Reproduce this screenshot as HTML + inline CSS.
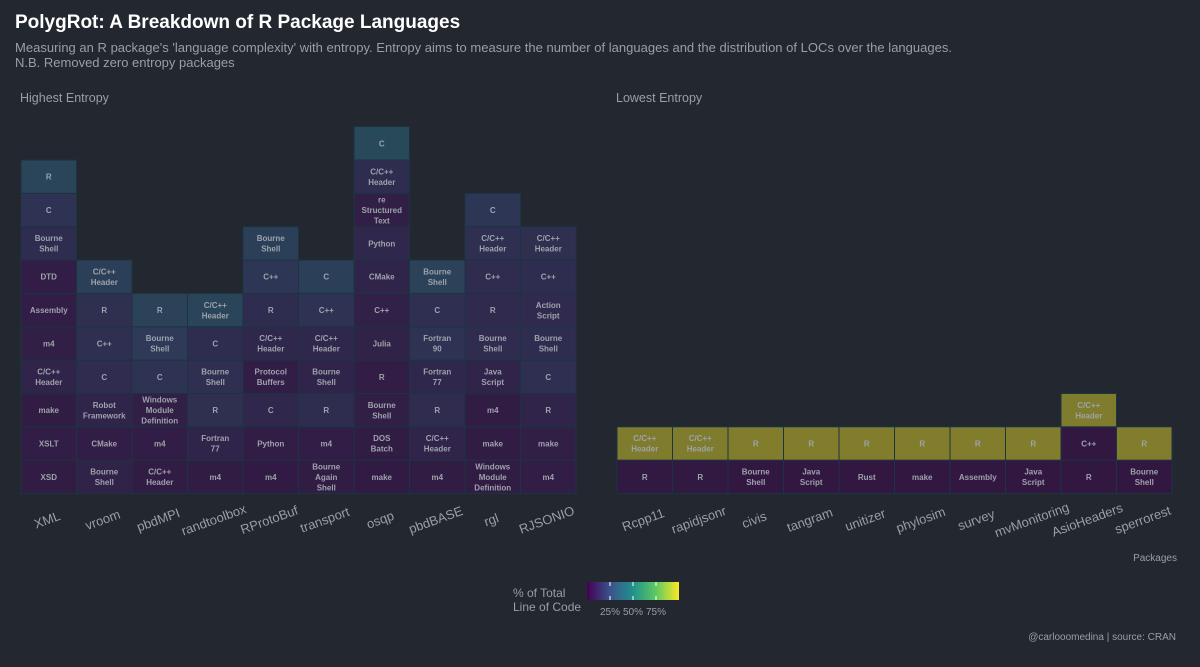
<!DOCTYPE html>
<html><head><meta charset="utf-8">
<style>
html,body{margin:0;padding:0;background:#23272f;width:1200px;height:667px;overflow:hidden;}
svg{display:block;font-family:"Liberation Sans",sans-serif;}
</style></head>
<body>
<svg id="chart" width="1200" height="667" viewBox="0 0 1200 667">
<rect width="1200" height="667" fill="#23272f"/>
<text x="15" y="28" fill="#ffffff" font-size="19" font-weight="bold">PolygRot: A Breakdown of R Package Languages</text>
<text x="15" y="52" fill="#9a9ea6" font-size="13" textLength="937">Measuring an R package's 'language complexity' with entropy. Entropy aims to measure the number of languages and the distribution of LOCs over the languages.</text>
<text x="15" y="67" fill="#9a9ea6" font-size="13">N.B. Removed zero entropy packages</text>
<text x="20" y="102" fill="#9a9ea6" font-size="12.5">Highest Entropy</text>
<text x="616" y="102" fill="#9a9ea6" font-size="12.5">Lowest Entropy</text>
<g id="tiles"></g>
<g id="xlabels"></g>
<text x="1177" y="561" fill="#9a9ea6" font-size="10" text-anchor="end">Packages</text>
<g>
<text x="513" y="597" fill="#9a9ea6" font-size="12">% of Total</text>
<text x="513" y="611" fill="#9a9ea6" font-size="12">Line of Code</text>
<defs><linearGradient id="vir" x1="0" x2="1" y1="0" y2="0">
<stop offset="0" stop-color="#440154"/><stop offset="0.25" stop-color="#3b528b"/><stop offset="0.5" stop-color="#21918c"/><stop offset="0.75" stop-color="#5ec962"/><stop offset="1" stop-color="#fde725"/></linearGradient></defs>
<rect x="587" y="582" width="92" height="18" fill="url(#vir)"/>
<g id="legticks"></g>
</g>
<text x="1176" y="640" fill="#9a9ea6" font-size="10" text-anchor="end">@carlooomedina | source: CRAN</text>
</svg>
<script>
// High entropy facet
const highPackages = ["XML","vroom","pbdMPI","randtoolbox","RProtoBuf","transport","osqp","pbdBASE","rgl","RJSONIO"];
const highLangs = [
 ["XSD","XSLT","make","C/C++ Header","m4","Assembly","DTD","Bourne Shell","C","R"],
 ["Bourne Shell","CMake","Robot Framework","C","C++","R","C/C++ Header"],
 ["C/C++ Header","m4","Windows Module Definition","C","Bourne Shell","R"],
 ["m4","Fortran 77","R","Bourne Shell","C","C/C++ Header"],
 ["m4","Python","C","Protocol Buffers","C/C++ Header","R","C++","Bourne Shell"],
 ["Bourne Again Shell","m4","R","Bourne Shell","C/C++ Header","C++","C"],
 ["make","DOS Batch","Bourne Shell","R","Julia","C++","CMake","Python","re Structured Text","C/C++ Header","C"],
 ["m4","C/C++ Header","R","Fortran 77","Fortran 90","C","Bourne Shell"],
 ["Windows Module Definition","make","m4","Java Script","Bourne Shell","R","C++","C/C++ Header","C"],
 ["m4","make","R","C","Bourne Shell","Action Script","C++","C/C++ Header"]
];
const highShares = [
 [0.04,0.05,0.04,0.1,0.06,0.05,0.05,0.16,0.2,0.34],
 [0.08,0.05,0.1,0.15,0.18,0.17,0.3],
 [0.04,0.05,0.06,0.2,0.25,0.32],
 [0.04,0.1,0.17,0.18,0.16,0.34],
 [0.03,0.05,0.12,0.05,0.12,0.16,0.22,0.3],
 [0.04,0.05,0.16,0.1,0.12,0.2,0.3],
 [0.03,0.04,0.06,0.05,0.08,0.07,0.1,0.12,0.06,0.16,0.38],
 [0.04,0.1,0.15,0.12,0.2,0.18,0.32],
 [0.04,0.04,0.04,0.1,0.15,0.14,0.15,0.18,0.22],
 [0.05,0.06,0.1,0.18,0.16,0.14,0.16,0.17]
];
// Low entropy facet
const lowPackages = ["Rcpp11","rapidjsonr","civis","tangram","unitizer","phylosim","survey","mvMonitoring","AsioHeaders","sperrorest"];
const lowLangs = [
 ["R","C/C++ Header"],["R","C/C++ Header"],["Bourne Shell","R"],["Java Script","R"],["Rust","R"],
 ["make","R"],["Assembly","R"],["Java Script","R"],["R","C++","C/C++ Header"],["Bourne Shell","R"]
];
const lowShares = [
 [0.02,0.98],[0.02,0.98],[0.01,0.99],[0.01,0.99],[0.01,0.99],
 [0.01,0.99],[0.01,0.99],[0.01,0.99],[0.01,0.01,0.98],[0.01,0.99]
];
const legendTicks = [0.25,0.5,0.75];
const legendLabels = ["25%","50%","75%"];

const NS="http://www.w3.org/2000/svg";
const bg=[35,39,47];
const vstops=[[68,1,84],[59,82,139],[33,145,140],[94,201,98],[253,231,37]];
function viridis(v){v=Math.max(0,Math.min(1,v));const p=v*4,i=Math.min(3,Math.floor(p)),f=p-i;
 return vstops[i].map((c,k)=>c+(vstops[i+1][k]-c)*f);}
function fillFor(v){const c=viridis(v),a=0.45;
 return "rgb("+c.map((x,k)=>Math.round(x*a+bg[k]*(1-a))).join(",")+")";}
const baseY=493.5, rowH=33.35, colW=55.5;
function xPos(panelX,i){return panelX+i*colW;}
function yPos(row){return baseY-(row+1)*rowH;}
const tg=document.getElementById("tiles"), xl=document.getElementById("xlabels");
function drawPanel(pkgs,langs,shares,panelX){
 pkgs.forEach((p,i)=>{
  const x=xPos(panelX,i);
  langs[i].forEach((lang,r)=>{
   const y=yPos(r);
   const rect=document.createElementNS(NS,"rect");
   rect.setAttribute("x",x);rect.setAttribute("y",y);
   rect.setAttribute("width",colW);rect.setAttribute("height",rowH);
   rect.setAttribute("fill",fillFor(shares[i][r]));
   rect.setAttribute("stroke","#1b3442");rect.setAttribute("stroke-width","1");
   
   
   tg.appendChild(rect);
   const words=lang.split(" ");
   const t=document.createElementNS(NS,"text");
   t.setAttribute("x",x+colW/2);t.setAttribute("text-anchor","middle");
   t.setAttribute("fill","#9ea2ac");t.setAttribute("font-size","8");t.setAttribute("font-weight","bold");
   
   
   const lh=10.5, y0=y+rowH/2-(words.length-1)*lh/2+3;
   words.forEach((w,k)=>{const ts=document.createElementNS(NS,"tspan");
    ts.setAttribute("x",x+colW/2);ts.setAttribute("y",y0+k*lh);ts.textContent=w;t.appendChild(ts);});
   tg.appendChild(t);
  });
  const lb=document.createElementNS(NS,"text");
  const cx=x+colW/2, cy=524;
  lb.setAttribute("x",cx);lb.setAttribute("y",cy);lb.setAttribute("text-anchor","middle");
  lb.setAttribute("fill","#9a9ea6");lb.setAttribute("font-size","13");
  lb.setAttribute("transform","rotate(-20 "+cx+" "+cy+")");
  lb.textContent=p;
  
  
  xl.appendChild(lb);
 });
}
drawPanel(highPackages,highLangs,highShares,21);
drawPanel(lowPackages,lowLangs,lowShares,617);
const lt=document.getElementById("legticks");
legendTicks.forEach((v,i)=>{
 const x=587+v*92;
 [[582,586],[596,600]].forEach(([a,b])=>{
  const l=document.createElementNS(NS,"line");
  l.setAttribute("x1",x);l.setAttribute("x2",x);l.setAttribute("y1",a);l.setAttribute("y2",b);
  l.setAttribute("stroke","#ffffff");l.setAttribute("stroke-width","1");
  
  
  lt.appendChild(l);
 });
 const t=document.createElementNS(NS,"text");
 t.setAttribute("x",x);t.setAttribute("y",615);t.setAttribute("text-anchor","middle");
 t.setAttribute("fill","#9a9ea6");t.setAttribute("font-size","10");
 t.textContent=legendLabels[i];
 
 
 lt.appendChild(t);
});
</script>
</body></html>
